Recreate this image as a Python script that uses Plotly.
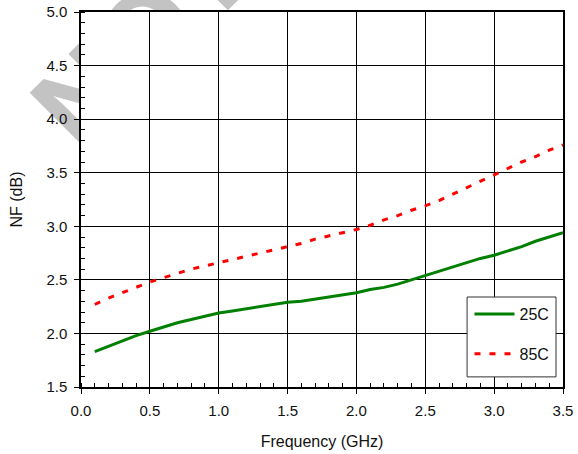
import plotly.graph_objects as go

freq = [0.1, 0.2, 0.3, 0.4, 0.5, 0.6, 0.7, 0.8, 0.9, 1.0, 1.1, 1.2, 1.3, 1.4, 1.5,
        1.6, 1.7, 1.8, 1.9, 2.0, 2.1, 2.2, 2.3, 2.4, 2.5, 2.6, 2.7, 2.8, 2.9, 3.0,
        3.1, 3.2, 3.3, 3.4, 3.5]
nf_25c = [1.83, 1.88, 1.93, 1.98, 2.02, 2.06, 2.10, 2.13, 2.16, 2.19, 2.21, 2.23, 2.25, 2.27, 2.29,
          2.30, 2.32, 2.34, 2.36, 2.38, 2.41, 2.43, 2.46, 2.50, 2.54, 2.58, 2.62, 2.66, 2.70, 2.73,
          2.77, 2.81, 2.86, 2.90, 2.94]
nf_85c = [2.27, 2.33, 2.38, 2.43, 2.48, 2.52, 2.56, 2.60, 2.63, 2.66, 2.69, 2.72, 2.75, 2.78, 2.81,
          2.84, 2.88, 2.91, 2.94, 2.97, 3.01, 3.06, 3.10, 3.15, 3.19, 3.24, 3.30, 3.36, 3.42, 3.48,
          3.54, 3.60, 3.65, 3.71, 3.76]
series_names = ["25C", "85C"]
x_ticks = [0.0, 0.5, 1.0, 1.5, 2.0, 2.5, 3.0, 3.5]
y_ticks = [1.5, 2.0, 2.5, 3.0, 3.5, 4.0, 4.5, 5.0]
watermark_text = "NOT RECOMMENDED"

FONT = "Liberation Sans, Arial, sans-serif"

fig = go.Figure()
fig.add_trace(go.Scatter(x=freq, y=nf_25c, mode="lines", name=series_names[0],
                         legendgroup="a",
                         line=dict(color="#008000", width=3)))
fig.add_trace(go.Scatter(x=freq, y=nf_85c, mode="lines", name=series_names[1],
                         legendgroup="b",
                         line=dict(color="#ff0000", width=3, dash="6px,9px")))

axis_common = dict(
    showline=True, linecolor="black", linewidth=1.5, mirror=True,
    showgrid=True, gridcolor="black", gridwidth=1,
    ticks="outside", ticklen=5, tickcolor="black", tickwidth=1,
    tickfont=dict(family=FONT, size=15, color="#111"),
    zeroline=False, automargin=False, ticklabelstandoff=4,
    minor=dict(ticks="inside", ticklen=4, dtick=0.1, tickcolor="black", showgrid=False),
)

fig.update_xaxes(range=[0, 3.5], tickvals=x_ticks, ticktext=[f"{v:.1f}" for v in x_ticks],
                 title=dict(text="Frequency (GHz)", font=dict(family=FONT, size=16, color="#111"),
                            standoff=18),
                 **axis_common)
fig.update_yaxes(range=[1.5, 5.0], tickvals=y_ticks, ticktext=[f"{v:.1f}" for v in y_ticks],
                 title=dict(text="NF (dB)", font=dict(family=FONT, size=16, color="#111"),
                            standoff=20),
                 **axis_common)

# watermark (behind plot area), then white plot-area cover
fig.add_shape(type="rect", xref="paper", yref="paper",
              x0=0.8317, x1=0.8417, y0=1.876, y1=1.896,
              line=dict(width=0), fillcolor="rgba(0,0,0,0)", layer="below",
              label=dict(text=f"<b>{watermark_text}</b>", textangle=-45,
                         textposition="middle center",
                         font=dict(family=FONT, size=119, color="#c3c3c3")))
fig.add_shape(type="rect", xref="paper", yref="paper", x0=0, x1=1, y0=0, y1=1,
              line=dict(width=0), fillcolor="white", layer="below")
# legend frame
fig.add_shape(type="rect", xref="paper", yref="paper", x0=0.801, x1=0.9855, y0=0.027, y1=0.24,
              line=dict(width=1, color="#333"), fillcolor="white", layer="above")

fig.update_layout(
    width=578, height=454,
    margin=dict(l=81, r=15, t=12, b=67),
    paper_bgcolor="white", plot_bgcolor="white",
    font=dict(family=FONT, size=15, color="#111"),
    showlegend=True,
    legend=dict(x=0.806, y=0.24, xanchor="left", yanchor="top",
                bgcolor="rgba(0,0,0,0)", borderwidth=0,
                font=dict(family=FONT, size=16, color="#111"),
                traceorder="grouped", tracegroupgap=16,
                itemwidth=40),
)

fig.write_html("out.html", config={"displayModeBar": False},
               post_script="document.body.style.margin='0px';")
